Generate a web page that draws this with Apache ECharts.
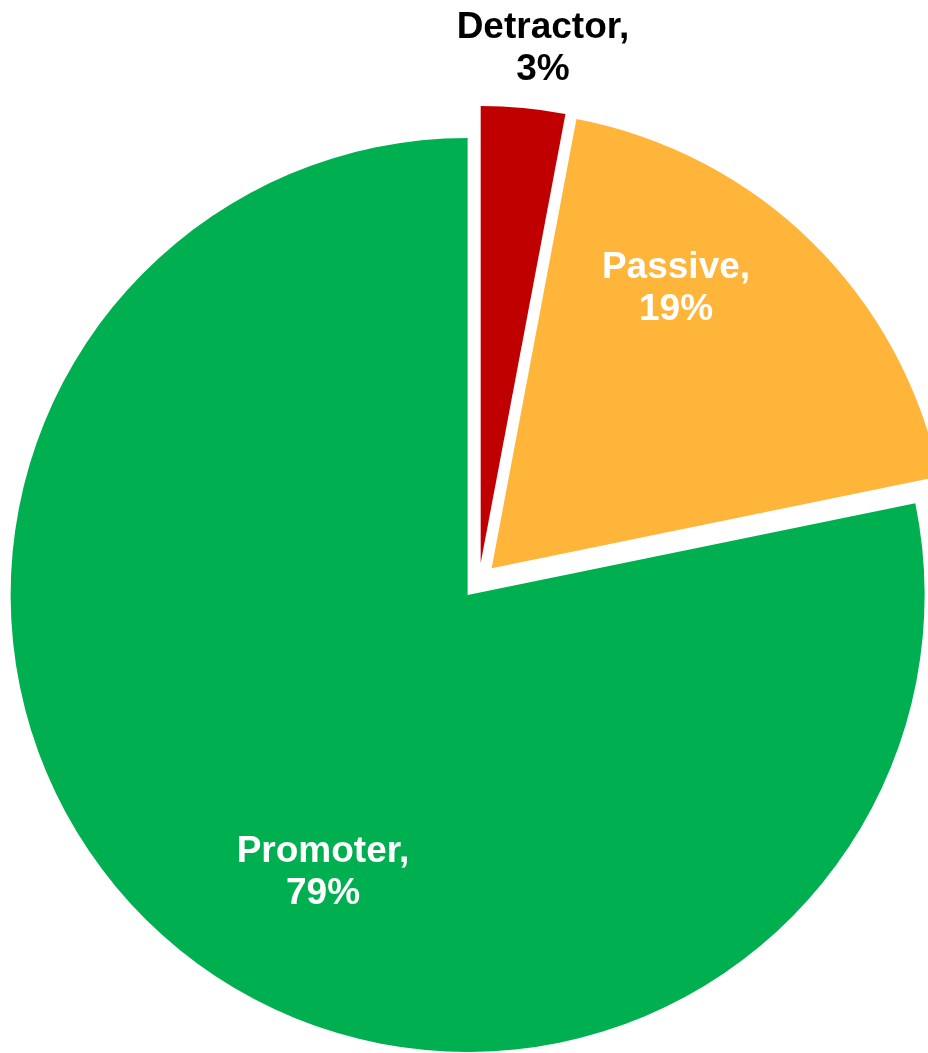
<!DOCTYPE html>
<html>
<head>
<meta charset="utf-8">
<style>
  html, body { margin: 0; padding: 0; background: #ffffff; }
  #chart { width: 928px; height: 1053px; }
</style>
<script src="https://cdn.jsdelivr.net/npm/echarts@6/dist/echarts.min.js"></script>
</head>
<body>
<div id="chart"></div>
<script>
// Net Promoter breakdown (percent of respondents)
const categories = ['Detractor', 'Passive', 'Promoter'];
const shares = [3, 19, 79];
const sliceColors = ['#C00000', '#FFB43A', '#00B050'];
const labelColors = ['#000000', '#ffffff', '#ffffff'];

// Pie geometry: shared centre, radius and explosion distance (px)
const pieCenter = [479, 581];
const pieRadius = 457;
const explode = 18;

// Label anchors (pixel positions of each text block centre)
const labelAnchors = [[543, 49], [676, 289], [323, 873]];

const total = shares.reduce((s, v) => s + v, 0);

// Mid-angle of each slice, clockwise from 12 o'clock
let acc = 0;
const midAngles = shares.map(v => {
  const start = acc / total * Math.PI * 2;
  acc += v;
  const end = acc / total * Math.PI * 2;
  return (start + end) / 2;
});

// One pie per slice: every pie lays out the full data, but only its own
// slice is painted, pushed outwards along the slice's mid-angle.
const series = categories.map((_, k) => ({
  type: 'pie',
  silent: true,
  center: [
    pieCenter[0] + Math.sin(midAngles[k]) * explode,
    pieCenter[1] - Math.cos(midAngles[k]) * explode
  ],
  radius: pieRadius,
  startAngle: 90,
  clockwise: true,
  avoidLabelOverlap: false,
  emphasis: { disabled: true },
  itemStyle: { borderWidth: 0 },
  label: {
    show: true,
    position: 'inside',
    formatter: '{b},\n{c}%',
    fontFamily: '"Liberation Sans", Arial, sans-serif',
    fontWeight: 'bold',
    fontSize: 37,
    lineHeight: 42,
    align: 'center'
  },
  labelLine: { show: false },
  labelLayout: function (p) {
    const a = labelAnchors[p.dataIndex];
    return { x: a[0], y: a[1], align: 'center', verticalAlign: 'middle' };
  },
  data: categories.map((name, i) => ({
    name: name,
    value: shares[i],
    itemStyle: { color: i === k ? sliceColors[i] : 'rgba(0,0,0,0)' },
    label: { show: i === k, color: labelColors[i] }
  }))
}));

const chart = echarts.init(document.getElementById('chart'), null, { renderer: 'canvas' });
chart.setOption({
  animation: false,
  backgroundColor: '#ffffff',
  series: series
});
</script>
</body>
</html>
